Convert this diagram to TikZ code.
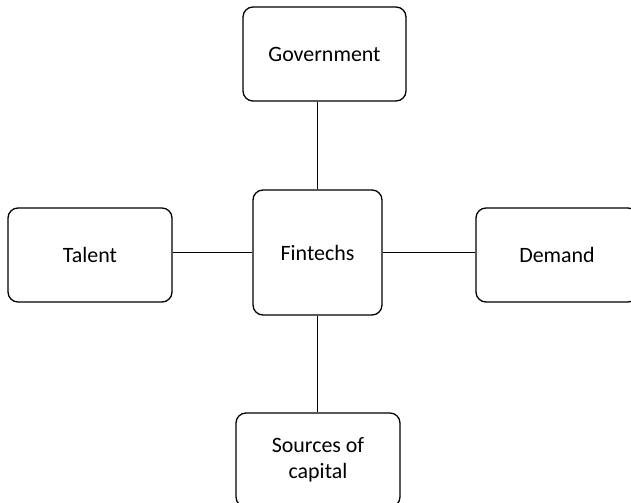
\documentclass[tikz,border=0pt]{standalone}
\usepackage{fontspec}
\setmainfont{Carlito}
\begin{document}
\begin{tikzpicture}[x=1bp,y=-1bp,
  box/.style={draw=black,line width=1.3bp,rounded corners=10bp,fill=white,
    inner sep=0pt,align=center,font=\fontsize{22}{26.5}\selectfont,
    minimum width=#1},
  box/.default=164bp,
  link/.style={draw=black,line width=1.3bp}]
\useasboundingbox (0,0) rectangle (631,503);
\clip (0,0) rectangle (631,503);
% central node and the four surrounding factors
\node[box=129bp,minimum height=125bp] (fin) at (317.5,252.5) {Fintechs};
\node[box=163bp,minimum height=94bp] (gov) at (324.5,54) {Government};
\node[box,minimum height=94bp] (tal) at (90,255) {Talent};
\node[box=162bp,minimum height=94bp] (dem) at (557,255) {Demand};
\node[box,minimum height=94bp] (src) at (318,460) {Sources of\\capital};
% connectors
\draw[link] (fin.north) -- (fin.north |- gov.south);
\draw[link] (fin.south) -- (fin.south |- src.north);
\draw[link] (fin.west) -- (fin.west -| tal.east);
\draw[link] (fin.east) -- (fin.east -| dem.west);
\end{tikzpicture}
\end{document}
